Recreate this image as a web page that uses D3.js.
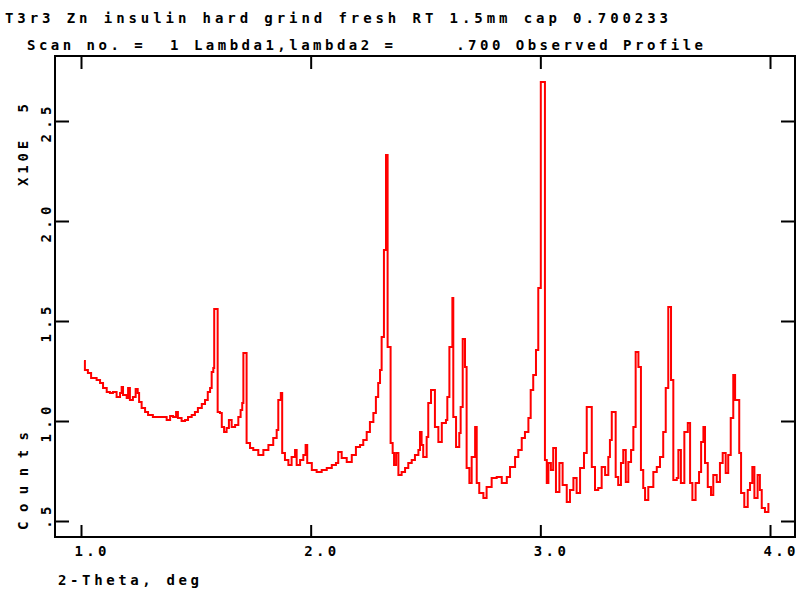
<!DOCTYPE html>
<html>
<head>
<meta charset="utf-8">
<script src="https://d3js.org/d3.v7.min.js"></script>
<style>
  body { margin: 0; background: #fff; }
  svg text { font-family: "DejaVu Sans Mono", "Liberation Mono", monospace; font-weight: bold; font-size: 14px; fill: #000; }
</style>
</head>
<body>
<div id="chart"></div>
<script>
// 2-theta (deg) and counts (x10^5)
const twoTheta = [
  1.013, 1.017, 1.030, 1.044, 1.052, 1.068, 1.083, 1.096, 1.112, 1.126,
  1.139, 1.155, 1.170, 1.177, 1.183, 1.199, 1.205, 1.213, 1.226, 1.238,
  1.247, 1.253, 1.264, 1.279, 1.292, 1.313, 1.335, 1.357, 1.373, 1.388,
  1.401, 1.414, 1.422, 1.438, 1.453, 1.466, 1.482, 1.496, 1.509, 1.526,
  1.540, 1.552, 1.562, 1.569, 1.576, 1.580, 1.595, 1.605, 1.613, 1.623,
  1.634, 1.644, 1.656, 1.671, 1.685, 1.695, 1.702, 1.707, 1.721, 1.736,
  1.750, 1.772, 1.794, 1.816, 1.837, 1.852, 1.859, 1.870, 1.876, 1.888,
  1.903, 1.917, 1.932, 1.939, 1.954, 1.968, 1.978, 1.985, 2.005, 2.026,
  2.048, 2.070, 2.092, 2.110, 2.120, 2.135, 2.157, 2.179, 2.197, 2.215,
  2.229, 2.244, 2.258, 2.273, 2.284, 2.294, 2.302, 2.309, 2.319, 2.328,
  2.335, 2.348, 2.357, 2.363, 2.372, 2.382, 2.396, 2.411, 2.425, 2.440,
  2.454, 2.469, 2.476, 2.483, 2.490, 2.505, 2.512, 2.524, 2.541, 2.556,
  2.571, 2.589, 2.595, 2.604, 2.617, 2.621, 2.633, 2.647, 2.653, 2.662,
  2.672, 2.679, 2.691, 2.701, 2.716, 2.723, 2.734, 2.752, 2.766, 2.788,
  2.810, 2.832, 2.854, 2.868, 2.890, 2.904, 2.919, 2.933, 2.948, 2.958,
  2.969, 2.981, 2.991, 3.002, 3.020, 3.028, 3.035, 3.046, 3.056, 3.068,
  3.083, 3.097, 3.115, 3.129, 3.144, 3.158, 3.173, 3.190, 3.202, 3.224,
  3.238, 3.252, 3.267, 3.282, 3.296, 3.303, 3.311, 3.328, 3.339, 3.351,
  3.361, 3.372, 3.383, 3.395, 3.405, 3.415, 3.427, 3.438, 3.448, 3.456,
  3.470, 3.492, 3.507, 3.521, 3.535, 3.546, 3.557, 3.569, 3.579, 3.594,
  3.601, 3.612, 3.627, 3.642, 3.652, 3.662, 3.676, 3.691, 3.700, 3.710,
  3.717, 3.729, 3.743, 3.753, 3.768, 3.782, 3.794, 3.807, 3.818, 3.829,
  3.840, 3.848, 3.866, 3.874, 3.888, 3.903, 3.913, 3.923, 3.932, 3.946,
  3.956, 3.964, 3.978, 3.993
];
const counts = [
  1.300, 1.255, 1.240, 1.215, 1.215, 1.205, 1.190, 1.165, 1.145, 1.140,
  1.145, 1.120, 1.140, 1.170, 1.130, 1.115, 1.165, 1.105, 1.120, 1.160,
  1.140, 1.095, 1.065, 1.045, 1.030, 1.020, 1.020, 1.020, 1.005, 1.025,
  1.020, 1.045, 1.015, 1.000, 1.005, 1.020, 1.030, 1.045, 1.065, 1.085,
  1.105, 1.145, 1.165, 1.245, 1.265, 1.560, 1.045, 1.040, 0.970, 0.945,
  0.965, 1.005, 0.970, 0.980, 1.020, 1.055, 1.090, 1.340, 0.890, 0.865,
  0.855, 0.830, 0.855, 0.880, 0.915, 0.955, 1.105, 1.140, 0.840, 0.805,
  0.780, 0.820, 0.855, 0.780, 0.805, 0.830, 0.880, 0.790, 0.755, 0.745,
  0.755, 0.765, 0.780, 0.790, 0.845, 0.815, 0.795, 0.830, 0.870, 0.880,
  0.905, 0.945, 0.995, 1.040, 1.120, 1.190, 1.255, 1.420, 1.855, 2.330,
  1.370, 0.890, 0.840, 0.780, 0.840, 0.730, 0.745, 0.765, 0.790, 0.805,
  0.830, 0.855, 0.945, 0.880, 0.820, 0.920, 1.090, 1.155, 0.970, 0.895,
  0.990, 1.005, 1.120, 1.370, 1.615, 1.020, 0.870, 0.940, 1.070, 1.410,
  1.270, 0.765, 0.690, 0.820, 0.970, 0.690, 0.640, 0.615, 0.670, 0.715,
  0.720, 0.690, 0.720, 0.770, 0.820, 0.855, 0.915, 0.945, 1.015, 1.155,
  1.230, 1.355, 1.665, 2.695, 0.805, 0.690, 0.790, 0.755, 0.865, 0.645,
  0.790, 0.680, 0.595, 0.655, 0.715, 0.640, 0.765, 0.840, 1.070, 0.770,
  0.655, 0.665, 0.770, 0.730, 0.820, 0.905, 1.045, 0.720, 0.680, 0.790,
  0.855, 0.695, 0.795, 0.855, 0.970, 1.345, 1.270, 0.755, 0.665, 0.605,
  0.670, 0.745, 0.770, 0.820, 0.945, 1.165, 1.570, 1.205, 0.705, 0.715,
  0.855, 0.690, 0.945, 0.990, 0.690, 0.605, 0.690, 0.745, 0.895, 0.970,
  0.790, 0.670, 0.630, 0.730, 0.695, 0.790, 0.840, 0.740, 0.830, 1.015,
  1.230, 1.105, 0.840, 0.640, 0.570, 0.655, 0.690, 0.770, 0.615, 0.730,
  0.655, 0.565, 0.545, 0.590
];

const xTicks = [1, 2, 3, 4];
const xTickLabels = ["1.0", "2.0", "3.0", "4.0"];
const yTicks = [0.5, 1.0, 1.5, 2.0, 2.5];
const yTickLabels = [" .5", "1.0", "1.5", "2.0", "2.5"];

const titleLine1 = "T3r3 Zn insulin hard grind fresh RT 1.5mm cap 0.700233";
const titleLine2 = "Scan no. =  1 Lambda1,lambda2 =     .700 Observed Profile";
const xTitle = "2-Theta, deg";
const yTitleTop = "X10E  5";
const yTitleBottom = "Counts";

const width = 796, height = 592;
const box = { left: 55, right: 795, top: 56, bottom: 537 };

const svg = d3.select("#chart").append("svg")
  .attr("width", width)
  .attr("height", height);

const xScale = d3.scaleLinear().domain([0.8868, 4.1088]).range([box.left, box.right]);
const yScale = d3.scaleLinear().domain([0.42, 2.825]).range([box.bottom, box.top]);

// titles
svg.append("text").attr("x", 5).attr("y", 23)
  .attr("textLength", 663).attr("lengthAdjust", "spacing")
  .style("white-space", "pre").text(titleLine1);
svg.append("text").attr("x", 27).attr("y", 50)
  .attr("textLength", 676).attr("lengthAdjust", "spacing")
  .style("white-space", "pre").text(titleLine2);

// profile
const data = twoTheta.map((t, i) => ({ t: t, c: counts[i] }));
const line = d3.line()
  .x(d => xScale(d.t))
  .y(d => yScale(d.c))
  .curve(d3.curveStepAfter);

svg.append("path")
  .datum(data)
  .attr("fill", "none")
  .attr("stroke", "#ff0000")
  .attr("stroke-width", 2)
  .attr("d", line);

// axes, ticks pointing into the box on all four sides
function styleAxis(g) {
  g.select(".domain").remove();
  g.selectAll(".tick line").attr("stroke", "#000").attr("stroke-width", 2);
}

svg.append("g")
  .attr("transform", `translate(0,${box.bottom})`)
  .call(d3.axisBottom(xScale).tickValues(xTicks).tickSize(-12)
    .tickFormat((d, i) => xTickLabels[i]))
  .call(styleAxis)
  .call(g => g.selectAll(".tick text")
    .attr("y", 19).attr("dy", null).attr("x", -7)
    .attr("text-anchor", "start")
    .attr("textLength", 32).attr("lengthAdjust", "spacing")
    .attr("font-family", null).attr("font-size", null));

svg.append("g")
  .attr("transform", `translate(0,${box.top})`)
  .call(d3.axisTop(xScale).tickValues(xTicks).tickSize(-13).tickFormat(""))
  .call(styleAxis);

svg.append("g")
  .attr("transform", `translate(${box.left},0)`)
  .call(d3.axisLeft(yScale).tickValues(yTicks).tickSize(-14)
    .tickFormat((d, i) => yTickLabels[i]))
  .call(styleAxis)
  .call(g => g.selectAll(".tick text")
    .attr("x", null).attr("dy", null)
    .attr("text-anchor", "start")
    .attr("transform", "translate(-4,21) rotate(-90)")
    .attr("textLength", 36).attr("lengthAdjust", "spacing")
    .style("white-space", "pre")
    .attr("font-family", null).attr("font-size", null));

svg.append("g")
  .attr("transform", `translate(${box.right},0)`)
  .call(d3.axisRight(yScale).tickValues(yTicks).tickSize(-14).tickFormat(""))
  .call(styleAxis);

// frame
svg.append("rect")
  .attr("x", box.left).attr("y", box.top)
  .attr("width", box.right - box.left)
  .attr("height", box.bottom - box.top)
  .attr("fill", "none")
  .attr("stroke", "#000")
  .attr("stroke-width", 2);

// axis titles
svg.append("text").attr("x", 58).attr("y", 585)
  .attr("textLength", 141).attr("lengthAdjust", "spacing")
  .text(xTitle);

svg.append("text")
  .attr("transform", "translate(28,186) rotate(-90)")
  .attr("textLength", 82).attr("lengthAdjust", "spacing")
  .style("white-space", "pre")
  .text(yTitleTop);

svg.append("text")
  .attr("transform", "translate(28,530) rotate(-90)")
  .attr("textLength", 98).attr("lengthAdjust", "spacing")
  .text(yTitleBottom);
</script>
</body>
</html>
